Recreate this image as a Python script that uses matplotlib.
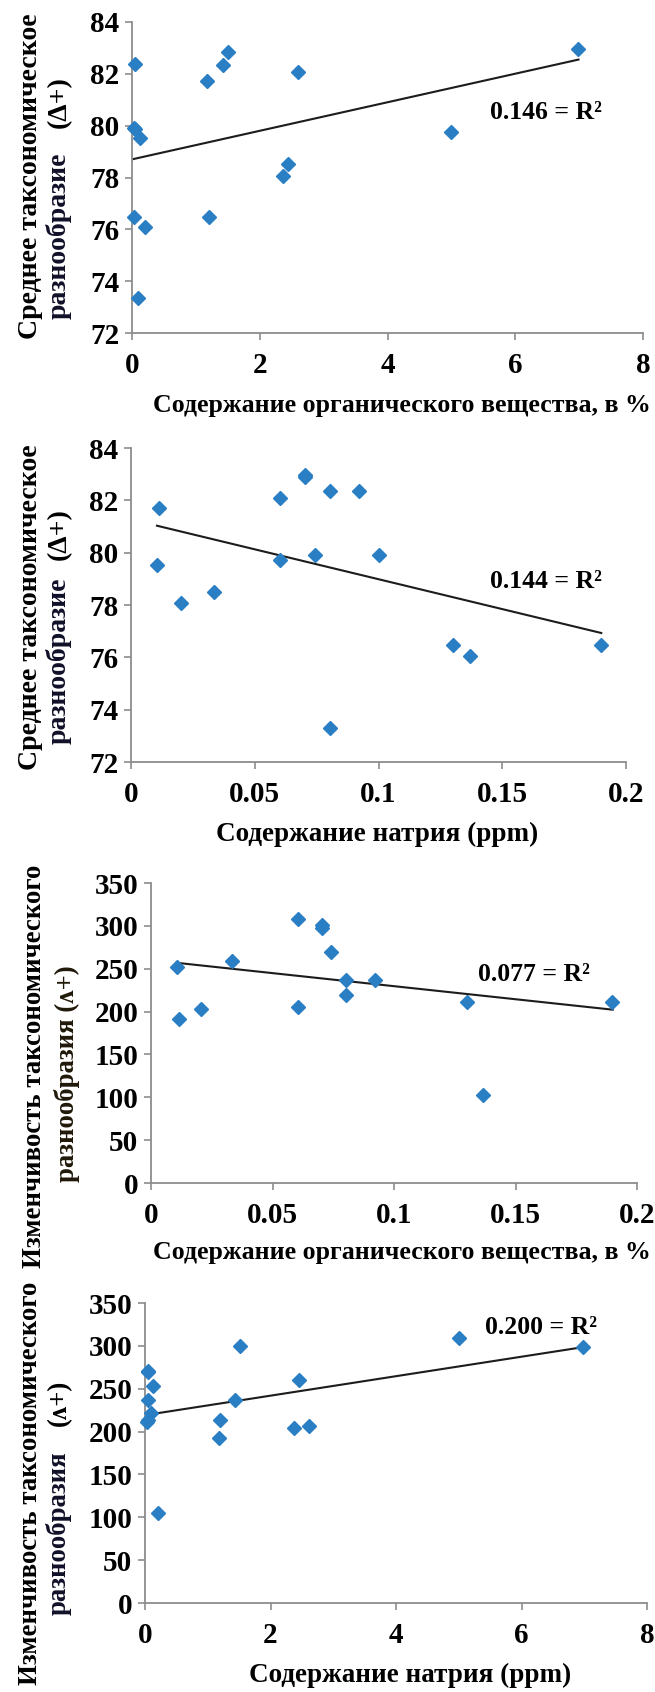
import matplotlib
matplotlib.use('Agg')
import matplotlib.pyplot as plt

FONT = ['Liberation Serif', 'DejaVu Serif']
plt.rcParams['font.family'] = FONT
plt.rcParams['font.weight'] = 'bold'

# ---------------- data ----------------
# Panel 1: organic matter (%) vs mean taxonomic distinctness
p1_x = [0.04, 0.03, 0.05, 0.12, 0.03, 0.20, 0.09, 1.18, 1.20, 1.43, 1.51, 2.60, 2.37, 2.44, 4.99, 6.99]
p1_y = [82.37, 79.92, 79.87, 79.53, 76.49, 76.09, 73.35, 81.71, 76.49, 82.36, 82.86, 82.07, 78.07, 78.51, 79.74, 82.95]
p1_trend_x = [0.0, 6.99]
p1_trend_y = [78.70, 82.55]
p1_r2 = "0.146 = R²"

# Panel 2: sodium (ppm) vs mean taxonomic distinctness
p2_x = [0.0115, 0.0105, 0.0204, 0.0334, 0.0603, 0.0603, 0.0703, 0.0703, 0.0743, 0.0804, 0.0921, 0.1002, 0.0804, 0.130, 0.137, 0.190]
p2_y = [81.72, 79.52, 78.06, 78.50, 82.10, 79.73, 82.96, 82.88, 79.90, 82.37, 82.37, 79.90, 73.30, 76.46, 76.06, 76.46]
p2_trend_x = [0.0105, 0.19]
p2_trend_y = [81.03, 76.93]
p2_r2 = "0.144 = R²"

# Panel 3: variation in taxonomic distinctness vs x (0-0.2)
p3_x = [0.0105, 0.0114, 0.0205, 0.0334, 0.0603, 0.0603, 0.0703, 0.0703, 0.0741, 0.0801, 0.0801, 0.0922, 0.130, 0.1368, 0.1898]
p3_y = [251.8, 191.3, 202.5, 259.2, 308.5, 205.7, 300.5, 297.5, 269.7, 236.7, 219.2, 236.3, 211.5, 102.8, 211.5]
p3_trend_x = [0.0105, 0.19]
p3_trend_y = [256.9, 202.2]
p3_r2 = "0.077 = R²"

# Panel 4: variation in taxonomic distinctness vs x (0-8)
p4_x = [0.04, 0.05, 0.12, 0.05, 0.09, 0.04, 0.03, 0.20, 1.19, 1.18, 1.43, 1.51, 2.37, 2.61, 2.45, 5.00, 6.98]
p4_y = [271.0, 269.0, 253.3, 237.0, 222.0, 213.5, 211.0, 104.8, 213.3, 192.5, 237.0, 300.2, 204.3, 206.7, 260.2, 309.2, 298.3]
p4_trend_x = [0.03, 7.0]
p4_trend_y = [219.5, 298.7]
p4_r2 = "0.200 = R²"

xticks_0_8 = [0, 2, 4, 6, 8]
xticklabels_0_8 = ["0", "2", "4", "6", "8"]
xticks_0_02 = [0, 0.05, 0.1, 0.15, 0.2]
xticklabels_0_02 = ["0", "0.05", "0.1", "0.15", "0.2"]
yticks_mean = [72, 74, 76, 78, 80, 82, 84]
yticks_var = [0, 50, 100, 150, 200, 250, 300, 350]

xlabel_org = "Содержание органического вещества, в %"
xlabel_na = "Содержание натрия (ppm)"
ylab_mean_1 = "Среднее таксономическое"
ylab_mean_2 = "разнообразие"
ylab_mean_3 = "(Δ+)"
ylab_var_1 = "Изменчивость таксономического"
ylab_var_2 = "разнообразия"
ylab_var_3 = "(ʌ+)"

# ---------------- style ----------------
W, H = 655, 1692
fig = plt.figure(figsize=(W / 100, H / 100), dpi=100)

MARKER_C = '#2a7ec4'
SPINE_C = '#8c8c8c'
TICK_FS = 21
LAB_FS = 20
VAR_FS = 19.3
XLAB_FS = 18.6
R2_FS = 18.5


def ax_at(l, r, t, b):
    return fig.add_axes([l / W, 1 - b / H, (r - l) / W, (b - t) / H])


def style(ax, xlim, ylim, xt, xtl, yt):
    ax.set_xlim(*xlim)
    ax.set_ylim(*ylim)
    ax.set_xticks(xt)
    ax.set_xticklabels(xtl, fontweight='bold', fontsize=TICK_FS)
    ax.set_yticks(yt)
    ax.set_yticklabels([str(v) for v in yt], fontweight='bold', fontsize=TICK_FS)
    for s in ['top', 'right']:
        ax.spines[s].set_visible(False)
    for s in ['left', 'bottom']:
        ax.spines[s].set_color(SPINE_C)
        ax.spines[s].set_linewidth(1.3)
    ax.tick_params(axis='both', direction='out', length=5, width=1.2, color=SPINE_C)
    ax.tick_params(axis='x', pad=9)
    ax.tick_params(axis='y', pad=4)


def panel(ax, x, y, tx, ty):
    ax.plot(tx, ty, color='#1c1c1c', lw=1.5, zorder=2)
    ax.plot(x, y, 'D', ms=7.3, color=MARKER_C, mec=MARKER_C, clip_on=False, zorder=3)


def ftext(x, y, s, rot=0, fs=LAB_FS, color='black'):
    fig.text(x / W, 1 - y / H, s, rotation=rot, ha='center', va='center',
             fontsize=fs, fontweight='bold', color=color)


# Panel 1
ax1 = ax_at(132, 643, 22, 333)
panel(ax1, p1_x, p1_y, p1_trend_x, p1_trend_y)
style(ax1, (0, 8), (72, 84), xticks_0_8, xticklabels_0_8, yticks_mean)
ax1.text(5.6, 80.5, p1_r2, fontsize=R2_FS, fontweight='bold', ha='left', va='center')
ftext(402, 405, xlabel_org, fs=XLAB_FS)
ftext(31, 176, ylab_mean_1, rot=90)
ftext(59, 236, ylab_mean_2, rot=90, color='#101028')
ftext(59, 102, ylab_mean_3, rot=90)

# Panel 2
ax2 = ax_at(131, 626, 448, 762)
panel(ax2, p2_x, p2_y, p2_trend_x, p2_trend_y)
style(ax2, (0, 0.2), (72, 84), xticks_0_02, xticklabels_0_02, yticks_mean)
ax2.text(0.145, 78.9, p2_r2, fontsize=R2_FS, fontweight='bold', ha='left', va='center')
ftext(377, 834, xlabel_na, fs=19.5)
ftext(31, 607, ylab_mean_1, rot=90)
ftext(59, 661, ylab_mean_2, rot=90, color='#101028')
ftext(59, 534, ylab_mean_3, rot=90)

# Panel 3
ax3 = ax_at(151, 637, 883, 1183)
panel(ax3, p3_x, p3_y, p3_trend_x, p3_trend_y)
style(ax3, (0, 0.2), (0, 350), xticks_0_02, xticklabels_0_02, yticks_var)
ax3.text(0.1346, 243, p3_r2, fontsize=R2_FS, fontweight='bold', ha='left', va='center')
ftext(402, 1252, xlabel_org, fs=XLAB_FS)
ftext(35, 1066, ylab_var_1, rot=90, fs=VAR_FS)
ftext(67, 1074, ylab_var_2 + " " + ylab_var_3, rot=90, fs=VAR_FS, color='#201808')

# Panel 4
ax4 = ax_at(145, 647, 1303, 1603)
panel(ax4, p4_x, p4_y, p4_trend_x, p4_trend_y)
style(ax4, (0, 8), (0, 350), xticks_0_8, xticklabels_0_8, yticks_var)
ax4.text(5.42, 321, p4_r2, fontsize=R2_FS, fontweight='bold', ha='left', va='center')
ftext(410, 1675, xlabel_na, fs=19.5)
ftext(31, 1483, ylab_var_1, rot=90, fs=VAR_FS)
ftext(59, 1533, ylab_var_2, rot=90, fs=VAR_FS, color='#101028')
ftext(59, 1403, ylab_var_3, rot=90, fs=VAR_FS)

fig.savefig('out.png', dpi=100, facecolor='white')
